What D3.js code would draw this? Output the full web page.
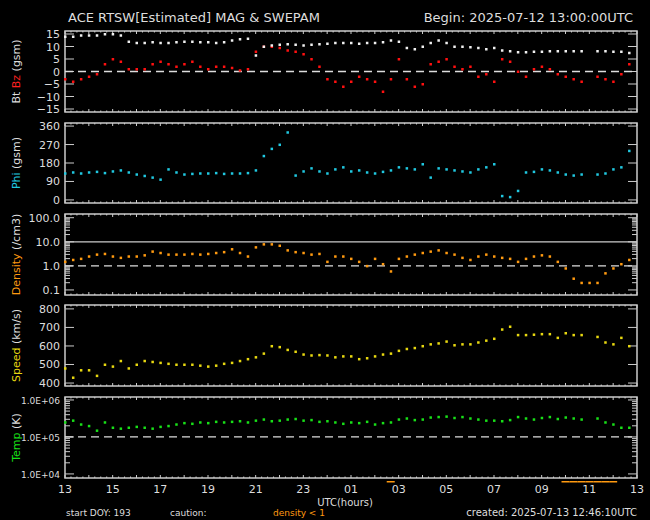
<!DOCTYPE html>
<html>
<head>
<meta charset="utf-8">
<script src="https://cdn.jsdelivr.net/npm/d3@7"></script>
<style>
  body { margin: 0; background: #000; }
  text { font-family: "DejaVu Sans", sans-serif; }
</style>
</head>
<body>
<div id="chart"></div>
<script>
// 20-minute samples, hour 0 = 13:00 UTC on 2025-07-12
const hourLabels = ["13", "15", "17", "19", "21", "23", "01", "03", "05", "07", "09", "11", "13"]

const bt = [14, 14, 14.5, 14.5, 14.5, 15, 15, 14.5, 12, 11.5, 11.5, 11.8,
  11.5, 11.5, 11.8, 12, 12, 11.8, 11.8, 11.5, 11.8, 12.5, 13, 13.2,
  6.5, 10, 10.5, 10.8, 11, 10.8, 10.5, 10.8, 11, 11.2, 11.5, 11.5,
  11.5, 11.2, 11.5, 11.5, 11.8, 12.5, 12, 9.5, 9, 10, 11.5, 12.5,
  11.5, 10, 10, 9.8, 9.5, 9, 9.5, 8.5, 8.2, 7.8, 7.8, 8,
  8, 8.2, 8.2, 8.2, 8.2, 8.2, null, 8.2, 8.2, 8, 8, 7.5]
const bz = [-3, -4, -3, -2, -1, 3, 5, 4, 1, 1, 1, 3,
  4, 3, 2, 3, 4, 2, 1, 2, 2, 1.5, 0.5, 1,
  8, 10, 10, 9.5, 8.5, 8, 7, 5, 2, -3, -4, -6,
  -4, -2, -3, -4, -8, -3, 5, -3, -6, -5, 3, 4,
  5, 2, 1, 2, -2, -1, -4, 5, 4, 0, -2, 1,
  2, 1, -1, -2, -3, -4, null, -2, -3, -4, -1, 3]
const phi = [130, 135, 130, 135, 138, 132, 140, 145, 135, 125, 118, 110,
  100, 150, 135, 125, 128, 130, 130, 132, 128, 130, 130, 132,
  145, 215, 250, 270, 330, 120, 140, 155, 140, 130, 150, 160,
  140, 145, 135, 130, 138, 145, 160, 155, 150, 175, 110, 155,
  150, 145, 140, 135, 150, 160, 175, 20, 15, 45, 135, 138,
  150, 145, 135, 125, 120, 125, null, 125, 130, 150, 160, 240]
const density = [1.5, 1.8, 2, 2.5, 3, 3.2, 2.5, 2.2, 2.5, 2.5, 2.8, 4,
  3.5, 3, 3, 3, 3.2, 3, 3.2, 3.5, 3.8, 5, 3.5, 2.5,
  6, 8, 8, 7, 4.5, 3.8, 3.5, 3, 3.2, 1.5, 2.5, 2.5,
  2, 1.5, 1.0, 2, 1.2, 0.6, 2, 2.5, 3, 3.5, 4, 4.5,
  3.5, 3, 2.2, 1.8, 2.5, 3, 2.5, 2.2, 2, 1.5, 2, 2.5,
  2.8, 2.5, 1.5, 0.8, 0.3, 0.2, 0.2, 0.2, 0.5, 0.8, 1.2, 1.8]
const speed = [480, 430, 470, 470, 440, 500, 490, 520, 480, 500, 520, 515,
  510, 505, 500, 500, 500, 495, 490, 495, 505, 510, 520, 530,
  540, 560, 600, 595, 580, 570, 555, 550, 552, 550, 540, 545,
  545, 530, 535, 545, 555, 560, 575, 585, 590, 600, 610, 615,
  625, 605, 610, 610, 620, 630, 640, 690, 705, 660, 660, 662,
  665, 665, 645, 670, 660, 660, null, 650, 620, 610, 645, 600]
const temp = [2.5e5, 2.8e5, 2.2e5, 2e5, 1.5e5, 2.5e5, 1.8e5, 1.7e5, 1.8e5, 1.9e5, 1.8e5, 1.7e5,
  1.9e5, 2e5, 2.2e5, 2.4e5, 2.3e5, 2.5e5, 2.4e5, 2.6e5, 2.5e5, 2.6e5, 2.7e5, 2.5e5,
  2.8e5, 3e5, 2.7e5, 2.8e5, 3e5, 3.1e5, 2.8e5, 2.9e5, 2.6e5, 2.7e5, 2.5e5, 2.3e5,
  2.5e5, 2.4e5, 2.6e5, 2.2e5, 2.4e5, 2.5e5, 3e5, 3.2e5, 2.9e5, 3e5, 3.4e5, 3.5e5,
  3.6e5, 3.3e5, 3.5e5, 3.2e5, 3e5, 2.8e5, 2.8e5, 2.7e5, 2.9e5, 3.5e5, 3.2e5, 3e5,
  3.3e5, 3.5e5, 3.1e5, 3.4e5, 3.2e5, 3e5, null, 3.2e5, 2.5e5, 2.2e5, 1.8e5, 1.8e5]

const W = 650, H = 520
const left = 65, right = 637

const svg = d3.select("#chart").append("svg")
  .attr("width", W).attr("height", H)
  .style("background", "#000")

const x = d3.scaleLinear().domain([0, 24]).range([left, right])
const hourOf = i => i / 3

// Title line
svg.append("text").attr("x", 68).attr("y", 22).attr("fill", "#ddd")
  .attr("font-size", 13).text("ACE RTSW[Estimated] MAG & SWEPAM")
svg.append("text").attr("x", 633).attr("y", 22).attr("fill", "#ddd")
  .attr("font-size", 13).attr("text-anchor", "end").text("Begin: 2025-07-12 13:00:00UTC")

function panel(cfg) {
  const { top, bottom, y } = cfg
  const g = svg.append("g")

  // frame
  g.append("rect").attr("x", left).attr("y", top)
    .attr("width", right - left).attr("height", bottom - top)
    .attr("fill", "none").attr("stroke", "#ccc").attr("stroke-width", 1.5)

  // little ticks on top and bottom every 15 minutes, longer every hour
  d3.range(0, 24.01, 0.25).forEach(h => {
    const len = h % 1 === 0 ? 3 : 1.5
    g.append("line").attr("x1", x(h)).attr("x2", x(h)).attr("y1", top).attr("y2", top + len)
      .attr("stroke", "#ccc")
    g.append("line").attr("x1", x(h)).attr("x2", x(h)).attr("y1", bottom).attr("y2", bottom - len)
      .attr("stroke", "#ccc")
  })

  // left axis labels + inward ticks on both sides
  cfg.ticks.forEach(t => {
    g.append("text").attr("x", 60).attr("y", y(t) + 4).attr("text-anchor", "end")
      .attr("fill", "#ddd").attr("font-size", cfg.tickSize || 11).text(cfg.fmt(t))
    g.append("line").attr("x1", left).attr("x2", left + 9).attr("y1", y(t)).attr("y2", y(t))
      .attr("stroke", "#ccc")
    g.append("line").attr("x1", right - 9).attr("x2", right).attr("y1", y(t)).attr("y2", y(t))
      .attr("stroke", "#ccc")
  })
  ;(cfg.minor || []).forEach(t => {
    g.append("line").attr("x1", left).attr("x2", left + 5).attr("y1", y(t)).attr("y2", y(t))
      .attr("stroke", "#ccc")
    g.append("line").attr("x1", right - 5).attr("x2", right).attr("y1", y(t)).attr("y2", y(t))
      .attr("stroke", "#ccc")
  })

  if (cfg.dashed != null) {
    g.append("line").attr("x1", left).attr("x2", right)
      .attr("y1", y(cfg.dashed)).attr("y2", y(cfg.dashed))
      .attr("stroke", "#ddd").attr("stroke-width", 1.3).attr("stroke-dasharray", "8,5")
  }
  if (cfg.solid != null) {
    g.append("line").attr("x1", left).attr("x2", right)
      .attr("y1", y(cfg.solid)).attr("y2", y(cfg.solid))
      .attr("stroke", "#ccc").attr("stroke-width", 1.3)
  }

  // data points
  cfg.series.forEach(s => {
    g.append("g").selectAll("rect")
      .data(s.values.map((v, i) => ({ h: hourOf(i), v })).filter(d => d.v != null))
      .enter().append("rect")
      .attr("x", d => x(d.h) - 1).attr("y", d => y(d.v) - 1)
      .attr("width", 2.5).attr("height", 2.5)
      .attr("fill", s.color)
  })

  // rotated y label, coloured pieces
  const lbl = g.append("text")
    .attr("transform", `translate(20,${(top + bottom) / 2}) rotate(-90)`)
    .attr("text-anchor", "middle").attr("font-size", 11)
  cfg.label.forEach(p => lbl.append("tspan").attr("fill", p[1]).text(p[0]))
}

const logMinor = (lo, hi) => {
  const out = []
  for (let e = lo; e < hi; e++) for (let k = 2; k <= 9; k++) out.push(k * Math.pow(10, e))
  return out
}

panel({
  top: 31, bottom: 112,
  y: d3.scaleLinear().domain([-16.2, 16.2]).range([112, 31]),
  ticks: [15, 10, 5, 0, -5, -10, -15], fmt: d => d < 0 ? "\u2212" + (-d) : d,
  dashed: 0,
  series: [{ values: bz, color: "#ff1010" }, { values: bt, color: "#f0f0f0" }],
  label: [["Bt  ", "#ddd"], ["Bz", "#ff2020"], ["  (gsm)", "#ddd"]]
})

panel({
  top: 123, bottom: 203,
  y: d3.scaleLinear().domain([-15, 375]).range([203, 123]),
  ticks: [0, 90, 180, 270, 360], fmt: d => d,
  series: [{ values: phi, color: "#20c8e0" }],
  label: [["Phi", "#20c8e0"], ["  (gsm)", "#ddd"]]
})

const yDen = d3.scaleLog().domain([Math.pow(10, -1.21), Math.pow(10, 2.154)]).range([295, 214])
panel({
  top: 214, bottom: 295,
  y: yDen,
  ticks: [100, 10, 1, 0.1], fmt: d => d3.format(".1f")(d),
  minor: logMinor(-1, 2),
  dashed: 1, solid: 10,
  series: [{ values: density, color: "#ff9a10" }],
  label: [["Density", "#ff9a10"], ["  (/cm3)", "#ddd"]]
})

panel({
  top: 305, bottom: 386,
  y: d3.scaleLinear().domain([384, 821]).range([386, 305]),
  ticks: [400, 500, 600, 700, 800], fmt: d => d,
  series: [{ values: speed, color: "#e8d810" }],
  label: [["Speed", "#e8d810"], ["  (km/s)", "#ddd"]]
})

panel({
  top: 397, bottom: 478,
  y: d3.scaleLog().domain([Math.pow(10, 3.89), Math.pow(10, 6.08)]).range([478, 397]),
  ticks: [1e6, 1e5, 1e4], fmt: d => "1.0E+0" + Math.round(Math.log10(d)), tickSize: 9,
  minor: logMinor(4, 6),
  dashed: 1e5,
  series: [{ values: temp, color: "#18e018" }],
  label: [["Temp", "#18e018"], ["  (K)", "#ddd"]]
})

// density < 1 flags under the bottom axis
svg.append("g").selectAll("rect")
  .data(density.map((v, i) => ({ h: hourOf(i), v })).filter(d => d.v != null && d.v < 1))
  .enter().append("rect")
  .attr("x", d => x(d.h) - 4).attr("y", 481)
  .attr("width", 8).attr("height", 1.5).attr("fill", "#ff9a10")

// hour labels
hourLabels.forEach((l, i) => {
  svg.append("text").attr("x", x(i * 2)).attr("y", 493).attr("text-anchor", "middle")
    .attr("fill", "#ddd").attr("font-size", 11).text(l)
})
svg.append("text").attr("x", 345).attr("y", 506).attr("text-anchor", "middle")
  .attr("fill", "#ddd").attr("font-size", 10).text("UTC(hours)")

// footer
svg.append("text").attr("x", 66).attr("y", 516).attr("fill", "#ddd").attr("font-size", 9)
  .text("start DOY: 193")
svg.append("text").attr("x", 170).attr("y", 516).attr("fill", "#ddd").attr("font-size", 9)
  .text("caution:")
svg.append("text").attr("x", 273).attr("y", 516).attr("fill", "#ff9a10").attr("font-size", 9)
  .text("density < 1")
svg.append("text").attr("x", 637).attr("y", 516).attr("text-anchor", "end")
  .attr("fill", "#ddd").attr("font-size", 10).text("created: 2025-07-13 12:46:10UTC")
</script>
</body>
</html>
